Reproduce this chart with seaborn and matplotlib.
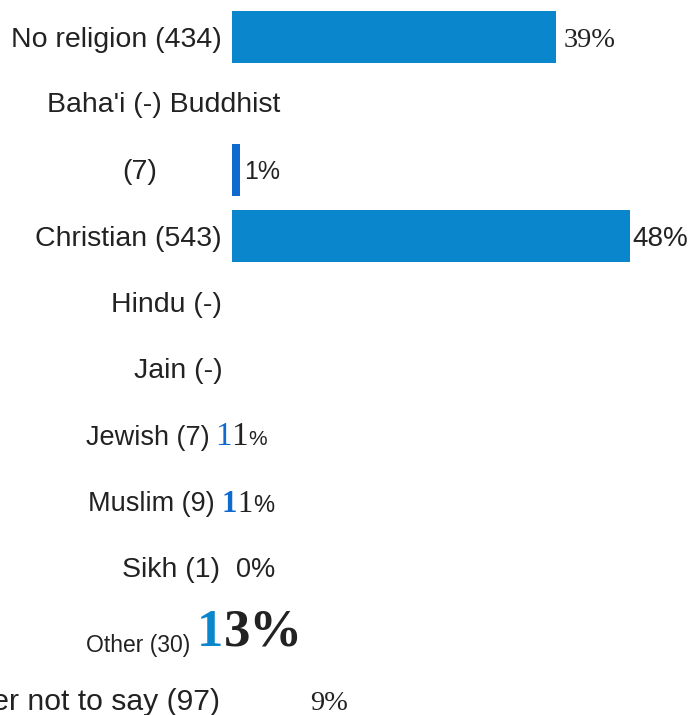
import matplotlib
matplotlib.use("Agg")
import matplotlib.pyplot as plt
import seaborn as sns
import pandas as pd

# ---------------- data ----------------
categories = ["No religion (434)", "Baha'i (-) Buddhist", "(7)", "Christian (543)",
              "Hindu (-)", "Jain (-)", "Jewish (7)", "Muslim (9)", "Sikh (1)",
              "Other (30)", "Prefer not to say (97)"]
bar_percent = [39, 0, 1, 48, 0, 0, 0, 0, 0, 0, 9]
value_labels = ["39%", "", "1%", "48%", "", "", "", "", "0%", "", "9%"]
# rows whose value appears as a run of glyphs (blue "bar" glyph + black number)
jewish_glyphs = ["1", "1", "%"]
muslim_glyphs = ["1", "1", "%"]
other_glyphs = ["1", "3%"]

# ---------------- style / layout ----------------
BAR_BLUE = "#0a86cc"
BUD_BLUE = "#0f6ad0"
TXT = "#222222"
W, H = 690, 715
X0, PXPER = 232, 8.3          # axis origin px, px per percent
Y0, ROWPX = 37, 66.3
PT = 0.72                      # points per pixel at dpi 100

bar_colors = [BAR_BLUE, BAR_BLUE, BUD_BLUE, BAR_BLUE, BAR_BLUE, BAR_BLUE,
              BAR_BLUE, BAR_BLUE, BAR_BLUE, BAR_BLUE, "#ffffff"]
label_right_px = [222, 280, 157, 222, 222, 223, 210, 215, 220, 190, 220]
label_size = [20.5, 20.5, 20.5, 20.5, 20.5, 20.5, 19.5, 19.5, 20.5, 16.5, 21.7]
label_base_px = [10, 9, 9, 10, 10, 10, 10, 10, 10, 18, 10]   # baseline below row centre
value_style = {  # row: (family, size_pt, pad_px)
    0: ("Liberation Serif", 20.5, 8),
    2: ("Liberation Sans", 18, 4),
    3: ("Liberation Sans", 20, 2),
    8: ("Liberation Sans", 19.5, 4),
    10: ("Liberation Serif", 20.5, 3),
}
SERIF, SANS = "Liberation Serif", "Liberation Sans"
# glyph runs: row -> (start_px, baseline_px, [(colour, family, size, weight), ...])
run_styles = {
    6: (215, 10, [(BUD_BLUE, SERIF, 24, "normal"), (TXT, SERIF, 24, "normal"),
                  (TXT, SANS, 15, "normal")]),
    7: (222, 11, [(BUD_BLUE, SERIF, 22, "bold"), (TXT, SERIF, 22, "normal"),
                  (TXT, SANS, 17, "normal")]),
    9: (197, 12, [(BAR_BLUE, SERIF, 38, "bold"), (TXT, SERIF, 38, "bold")]),
}
run_texts = {6: jewish_glyphs, 7: muslim_glyphs, 9: other_glyphs}

sns.set_theme(style="white")
plt.rcParams["font.family"] = ["Liberation Sans", "DejaVu Sans"]

fig = plt.figure(figsize=(W / 100, H / 100), dpi=100)
ax = fig.add_axes([0, 0, 1, 1])

df = pd.DataFrame({"category": categories, "value": bar_percent})
sns.barplot(data=df, x="value", y="category", hue="category", order=categories,
            palette=dict(zip(categories, bar_colors)), legend=False, saturation=1,
            width=0.785, linewidth=0, ax=ax)

ax.set_xlim(-X0 / PXPER, (W - X0) / PXPER)
ax.set_ylim((H - Y0) / ROWPX, -Y0 / ROWPX)
ax.axis("off")


def px2x(px):
    return (px - X0) / PXPER


# row labels
for i, (lab, rpx, fs, bpx) in enumerate(zip(categories, label_right_px, label_size, label_base_px)):
    ax.annotate(lab, xy=(px2x(rpx), i), xytext=(0, -bpx * PT), textcoords="offset points",
                ha="right", va="baseline", fontsize=fs, color=TXT,
                family=["Liberation Sans", "DejaVu Sans"], annotation_clip=False)

# value labels at bar ends
for i, (v, lab) in enumerate(zip(bar_percent, value_labels)):
    if not lab:
        continue
    fam, fs, pad = value_style[i]
    ax.annotate(lab, xy=(v, i), xytext=(pad * PT, -label_base_px[i] * PT),
                textcoords="offset points", ha="left", va="baseline",
                fontsize=fs, color=TXT, family=fam)

# glyph runs, each piece set right after the previous one
for row, (start_px, bpx, styles) in run_styles.items():
    prev = None
    for txt, (col, fam, fs, fw) in zip(run_texts[row], styles):
        if prev is None:
            xy, coords = (px2x(start_px), row), "data"
        else:
            xy, coords = (1, row), (prev, "data")
        prev = ax.annotate(txt, xy=xy, xycoords=coords, xytext=(0, -bpx * PT),
                           textcoords="offset points", ha="left", va="baseline",
                           fontsize=fs, color=col, family=fam, fontweight=fw)
        fig.canvas.draw()

fig.savefig("out.png", dpi=100)
